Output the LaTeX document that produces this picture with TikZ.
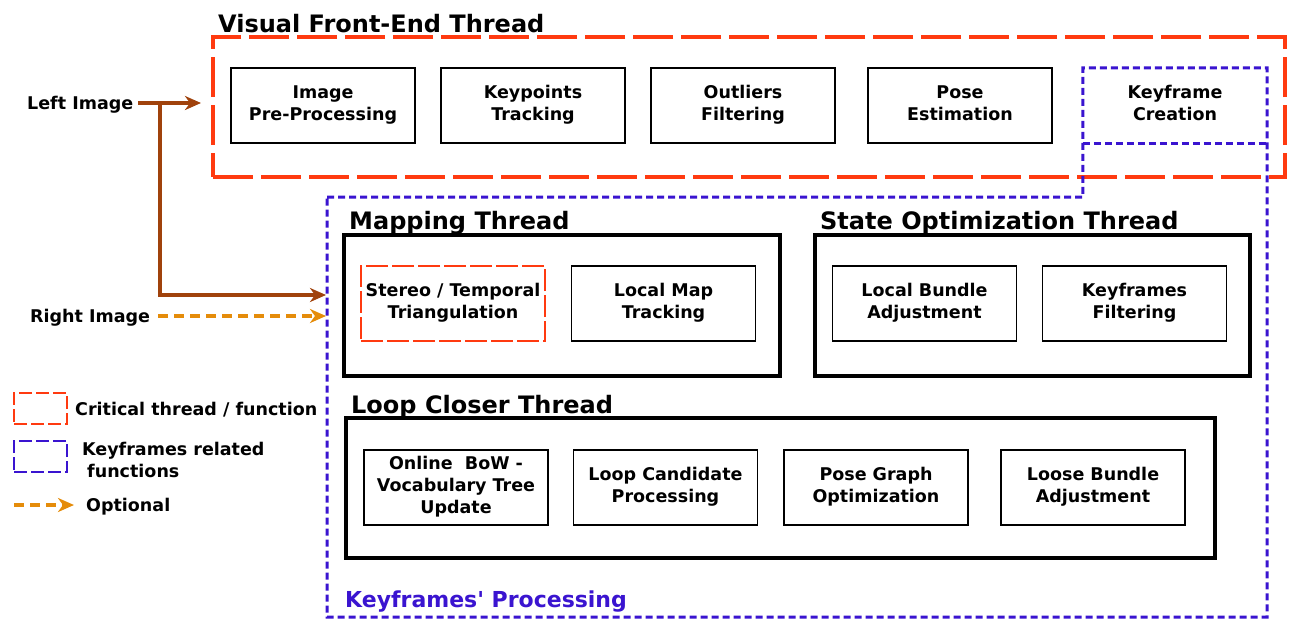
\documentclass[tikz,border=0pt]{standalone}
\usepackage{fontspec}
\setmainfont{DejaVu Sans}
\usetikzlibrary{arrows.meta}
\definecolor{critred}{HTML}{FF3A10}
\definecolor{kfblue}{HTML}{3A14D0}
\definecolor{brownarr}{HTML}{A0420C}
\definecolor{optorange}{HTML}{E58C0A}
\newcommand{\sq}{{\XeTeXglyph\XeTeXglyphindex "quotesingle"\relax}}
\newcommand{\bstrut}{\rule[-5pt]{0pt}{22pt}}
\tikzset{
  txt/.style={font=\fontsize{17.5}{22}\selectfont\bfseries, align=center, inner sep=0pt},
  boxtxt/.style={txt, execute at begin node=\bstrut, execute at end node=\bstrut},
  ttl/.style={font=\fontsize{24}{28}\selectfont\bfseries, anchor=base west, inner sep=0pt},
  fbox/.style={boxtxt, draw, line width=1.8pt, minimum width=184pt, minimum height=75pt},
  critbox/.style={boxtxt, draw=critred, line width=1.4pt, dash pattern=on 22pt off 4pt, minimum width=184pt, minimum height=75pt},
  kfnode/.style={boxtxt, minimum width=184pt, minimum height=75pt},
  thread/.style={draw, line width=4pt, inner sep=0pt},
  critline/.style={draw=critred, line width=3.5pt, dash pattern=on 40pt off 8pt},
  kfline/.style={draw=kfblue, line width=3pt, dash pattern=on 7pt off 4pt},
  brownarrow/.style={draw=brownarr, line width=4.5pt, -{Stealth[length=16pt,width=14pt,inset=5pt]}},
  optarrow/.style={draw=optorange, line width=4pt, dash pattern=on 10pt off 6pt, -{Stealth[length=16pt,width=14pt,inset=5pt]}},
}
\begin{document}
\begin{tikzpicture}[x=1pt,y=-1pt]
\useasboundingbox (0,0) rectangle (1308,630);
\fill[white] (0,0) rectangle (1308,630);

% Visual front-end
\node[critline, minimum width=1072pt, minimum height=140pt, inner sep=0pt] (vfe) at (749,107) {};
\node[ttl] (vfet) at (218,32) {Visual Front-End Thread};
\node[fbox] (ipp) at (323,105.5) {Image\\Pre-Processing};
\node[fbox] (kpt) at (533,105.5) {Keypoints\\Tracking};
\node[fbox] (ofl) at (743,105.5) {Outliers\\Filtering};
\node[fbox] (pes) at (960,105.5) {Pose\\Estimation};
\node[kfnode] (kfc) at (1175,105.5) {Keyframe\\Creation};

% Keyframes' processing region
\coordinate (kp1) at (327,197);
\coordinate (kp2) at (327,617);
\coordinate (kp3) at (1267,617);
\draw[kfline] (kp1) -- (kp1 -| kfc.west) -- (kfc.north west) -- (kfc.north east) -- (kp3) -- (kp2) -- cycle;
\draw[kfline] (kfc.south west) -- (kfc.south east);
\node[ttl, text=kfblue, font=\fontsize{22}{26}\selectfont\bfseries] (kpt2) at (345,607) {Keyframes\sq{} Processing};

% Mapping thread
\node[thread, minimum width=436pt, minimum height=141pt] (map) at (562,305.5) {};
\node[ttl] (mapt) at (349,229) {Mapping Thread};
\node[critbox] (stt) at (453,303.5) {Stereo / Temporal\\Triangulation};
\node[fbox] (lmt) at (663.5,303.5) {Local Map\\Tracking};

% State optimization thread
\node[thread, minimum width=435pt, minimum height=141pt] (sot) at (1032.5,305.5) {};
\node[ttl] (sott) at (820,229) {State Optimization Thread};
\node[fbox] (lba) at (924.5,303.5) {Local Bundle\\Adjustment};
\node[fbox] (kff) at (1134.5,303.5) {Keyframes\\Filtering};

% Loop closer thread
\node[thread, minimum width=869pt, minimum height=140pt] (lct) at (780.5,488) {};
\node[ttl] (lctt) at (351,413) {Loop Closer Thread};
\node[fbox] (bow) at (456,487.5) {Online\ \ BoW -\\Vocabulary Tree\\Update};
\node[fbox] (lcp) at (665.5,487.5) {Loop Candidate\\Processing};
\node[fbox] (pgo) at (876,487.5) {Pose Graph\\Optimization};
\node[fbox] (lbb) at (1093,487.5) {Loose Bundle\\Adjustment};

% Inputs
\node[txt, anchor=west] (li) at (27,104.5) {Left Image};
\node[txt, anchor=west] (ri) at (30,317.5) {Right Image};
\coordinate (liend) at (201,103);
\coordinate (libr) at (160,103);
\coordinate (riend) at (326,316);
\coordinate (mapin) at (326,295);
\draw[brownarrow] (li.east |- libr) ++(5,0) -- (liend);
\draw[brownarrow] (libr) |- (mapin);
\draw[optarrow] (ri.east |- riend) ++(8,0) -- (riend);

% Legend
\node[draw=critred, line width=1.6pt, dash pattern=on 13pt off 4pt, minimum width=53pt, minimum height=31pt, inner sep=0pt] (lg1) at (40.5,408.5) {};
\node[txt, anchor=west] (lg1t) at (75,410) {Critical thread / function};
\node[draw=kfblue, line width=1.6pt, dash pattern=on 13pt off 4pt, minimum width=53pt, minimum height=31pt, inner sep=0pt] (lg2) at (40.5,456.5) {};
\node[txt, anchor=west, align=left] (lg2t) at (82,460) {Keyframes related\\\hspace*{5pt}functions};
\coordinate (lg3a) at (14,505);
\coordinate (lg3b) at (74,505);
\draw[optarrow] (lg3a) -- (lg3b);
\node[txt, anchor=west] (lg3t) at (86,506.5) {Optional};
\end{tikzpicture}
\end{document}
